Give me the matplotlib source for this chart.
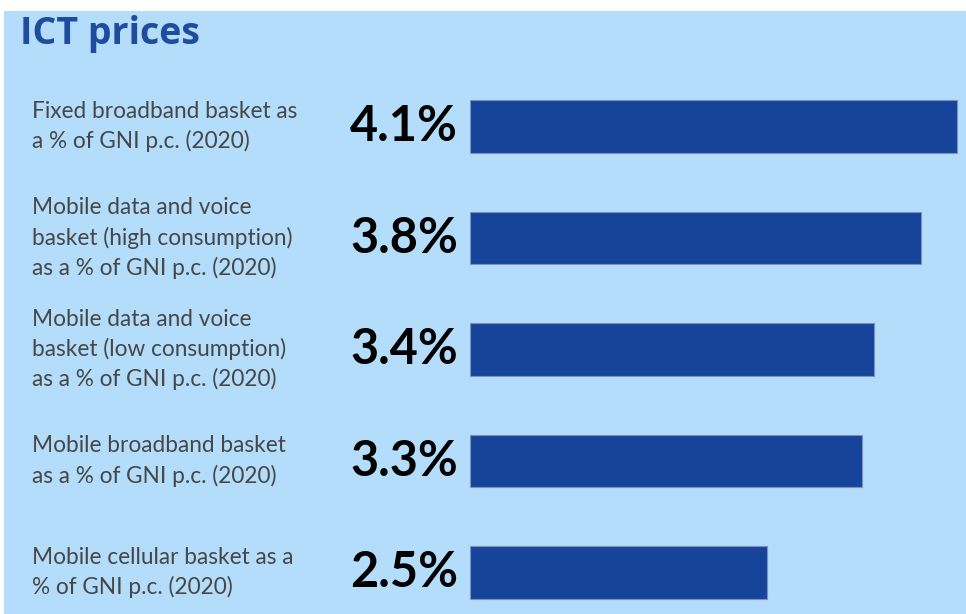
import matplotlib
matplotlib.use("Agg")
import matplotlib.pyplot as plt
from matplotlib.patches import Rectangle
from matplotlib.transforms import blended_transform_factory

labels = [
    "Fixed broadband basket as\na % of GNI p.c. (2020)",
    "Mobile data and voice\nbasket (high consumption)\nas a % of GNI p.c. (2020)",
    "Mobile data and voice\nbasket (low consumption)\nas a % of GNI p.c. (2020)",
    "Mobile broadband basket\nas a % of GNI p.c. (2020)",
    "Mobile cellular basket as a\n% of GNI p.c. (2020)",
]
values = [4.1, 3.8, 3.4, 3.3, 2.5]
value_labels = ["4.1%", "3.8%", "3.4%", "3.3%", "2.5%"]

BG = "#b3ddfa"
BAR = "#16449a"
W, H = 966, 614

fig = plt.figure(figsize=(W / 100, H / 100), dpi=100)
fig.patch.set_facecolor("white")
fig.patches.append(Rectangle((4 / W, 0), 1 - 4 / W, (H - 11) / H,
                             transform=fig.transFigure, facecolor=BG,
                             edgecolor="none", zorder=-10))

# axes spans from bar origin to right edge, full blue height
ax = fig.add_axes([470 / W, 0, 1 - 470 / W, (H - 11) / H])
ax.set_facecolor("none")
pos = list(range(len(values)))
ax.barh(pos, values, height=0.475, color=BAR, edgecolor="#7d90bb", linewidth=0.8)
ax.set_xlim(0, 496 / 118.8)
ax.set_ylim((614 - 126.5) / 111.5, (11 - 126.5) / 111.5)
ax.axis("off")

tr = blended_transform_factory(fig.transFigure, ax.transData)
for p, lab, vl in zip(pos, labels, value_labels):
    fig.text(32 / W, p, lab, transform=tr, ha="left", va="center",
             fontsize=16.3, color="#474747", family="Lato", linespacing=1.45)
    fig.text(458 / W, p, vl, transform=tr, ha="right", va="center",
             fontsize=35, color="black", family="Lato", fontweight="bold")

fig.text(20 / W, 1 - 34 / H, "ICT prices", ha="left", va="center",
         fontsize=27, color="#1e4c9e", family="Open Sans", fontweight="bold")

fig.savefig("out.png", dpi=100)
